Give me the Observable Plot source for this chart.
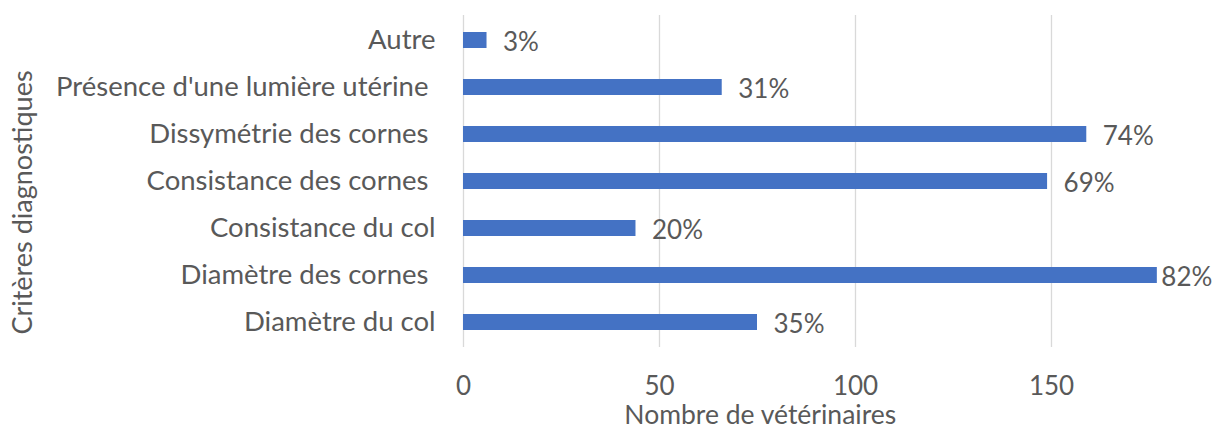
<!DOCTYPE html>
<html>
<head>
<meta charset="utf-8">
<script src="https://cdn.jsdelivr.net/npm/d3@7"></script>
<script src="https://cdn.jsdelivr.net/npm/@observablehq/plot@0.6"></script>
<style>
  html, body { margin: 0; padding: 0; background: #fff; }
  svg text { white-space: pre; }
</style>
</head>
<body>
<div id="chart"></div>
<script>
// Categories, top to bottom
const categories = [
  "Autre",
  "Présence d'une lumière utérine ",
  "Dissymétrie des cornes ",
  "Consistance des cornes ",
  "Consistance du col",
  "Diamètre des cornes ",
  "Diamètre du col"
];
// Number of veterinarians (N ≈ 216)
const counts = [6, 66, 159, 149, 44, 177, 75];
// Percentage labels
const percentLabels = ["3%", "31%", "74%", "69%", "20%", "82%", "35%"];
const xTicks = [0, 50, 100, 150];
const xTitle = "Nombre de vétérinaires";
const yTitle = "Critères diagnostiques";

const data = categories.map((c, i) => ({category: c, count: counts[i], label: percentLabels[i]}));
const maxCount = d3.max(counts);

const textColor = "#595959";

const chart = Plot.plot({
  width: 1225,
  height: 426,
  marginLeft: 463,
  marginRight: 56.4,
  marginTop: 15,
  marginBottom: 79,
  style: {fontFamily: "Lato, 'Open Sans', sans-serif", fontSize: "26px", color: textColor, background: "#fff"},
  x: {domain: [0, 180], ticks: xTicks},
  y: {domain: categories, paddingInner: 0.65, paddingOuter: 0.325},
  marks: [
    Plot.gridX(xTicks, {stroke: "#d9d9d9", strokeOpacity: 1, strokeWidth: 1.3}),
    Plot.barX(data, {x: "count", y: "category", fill: "#4472C4"}),
    Plot.text(data.filter(d => d.count !== maxCount), {x: "count", y: "category", text: "label", textAnchor: "start", dx: 16, dy: 2, fill: textColor, fontSize: 26}),
    Plot.text(data.filter(d => d.count === maxCount), {x: "count", y: "category", text: "label", textAnchor: "start", dx: 4, dy: 2, fill: textColor, fontSize: 26}),
    Plot.axisX({ticks: xTicks, tickSize: 0, tickPadding: 29, label: null, fill: textColor, tickFormat: d => String(d)}),
    Plot.axisY({tickSize: 0, tickPadding: 28, label: null, fill: textColor, fontSize: 27.5}),
    Plot.text([xTitle], {frameAnchor: "bottom", dx: -56, dy: 76, fill: textColor, fontSize: 26.5}),
    Plot.text([yTitle], {frameAnchor: "left", textAnchor: "middle", lineAnchor: "middle", rotate: -90, dx: -440, dy: 21, fill: textColor, fontSize: 27})
  ]
});
document.getElementById("chart").appendChild(chart);
</script>
</body>
</html>
